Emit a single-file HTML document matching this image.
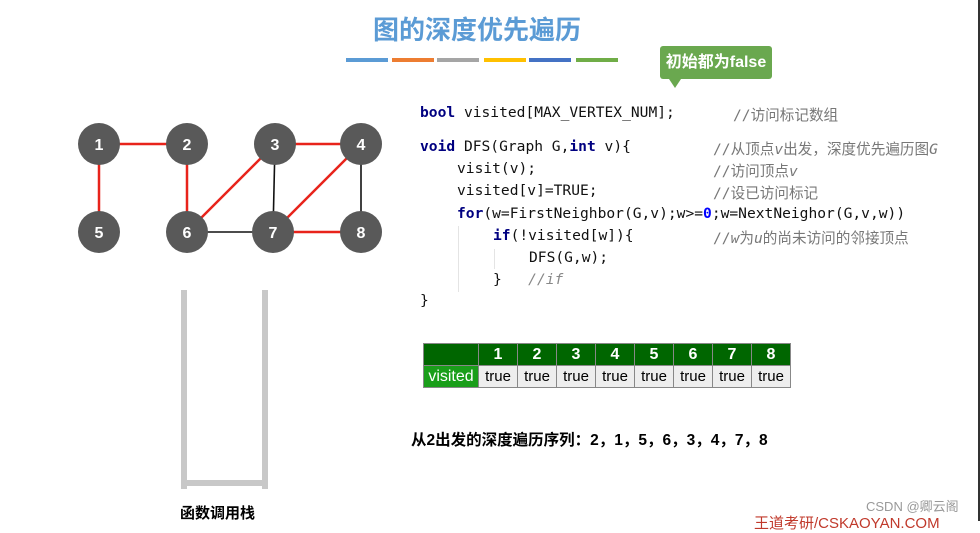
<!DOCTYPE html>
<html><head><meta charset="utf-8"><style>
body{margin:0;width:980px;height:521px;overflow:hidden;background:#fff;position:relative;font-family:"Liberation Sans","Noto Sans CJK SC",sans-serif}
.a{position:absolute;white-space:nowrap}
.code{font-family:"DejaVu Sans Mono","Noto Sans CJK SC",monospace;font-size:14.6px;color:#111}
.kw{color:#000080;font-weight:bold}
.cm{color:#777;font-family:"DejaVu Sans Mono","Noto Sans CJK SC",monospace;font-size:14.6px}
table{position:absolute;left:423px;top:343px;border-collapse:collapse;font-size:15px}
td{border:1px solid #888;height:21px;padding:0;text-align:center;width:38px}
tr.h td{background:#006600;color:#fff;font-weight:bold;font-size:16px}
tr.v td{background:#eee;color:#000}
</style></head><body>
<div class="a" style="left:373px;top:10px;font-size:26px;font-weight:bold;color:#5b9bd5">图的深度优先遍历</div>
<div class="a" style="left:346px;top:58px;width:42px;height:4px;background:#5b9bd5"></div>
<div class="a" style="left:392px;top:58px;width:42px;height:4px;background:#ed7d31"></div>
<div class="a" style="left:437px;top:58px;width:42px;height:4px;background:#a5a5a5"></div>
<div class="a" style="left:484px;top:58px;width:42px;height:4px;background:#ffc000"></div>
<div class="a" style="left:529px;top:58px;width:42px;height:4px;background:#4472c4"></div>
<div class="a" style="left:576px;top:58px;width:42px;height:4px;background:#70ad47"></div>
<div class="a" style="left:660px;top:46px;width:112px;height:33px;background:#6aa84f;border-radius:3px;color:#fff;font-weight:bold;font-size:16px;line-height:33px;text-align:center">初始都为false</div>
<div class="a" style="left:669px;top:79px;width:0;height:0;border-left:6px solid transparent;border-right:6px solid transparent;border-top:9px solid #6aa84f"></div>
<svg class="a" style="left:0;top:0" width="420" height="300">
<g stroke-width="2.5"><line x1="99" y1="144" x2="187" y2="144" stroke="#e8231b"/><line x1="99" y1="144" x2="99" y2="232" stroke="#e8231b"/><line x1="187" y1="144" x2="187" y2="232" stroke="#e8231b"/><line x1="187" y1="232" x2="275" y2="144" stroke="#e8231b"/><line x1="275" y1="144" x2="361" y2="144" stroke="#e8231b"/><line x1="361" y1="144" x2="273" y2="232" stroke="#e8231b"/><line x1="273" y1="232" x2="361" y2="232" stroke="#e8231b"/></g>
<g stroke="#111" stroke-width="1.6"><line x1="187" y1="232" x2="273" y2="232"/><line x1="275" y1="144" x2="273" y2="232"/><line x1="361" y1="144" x2="361" y2="232"/></g>
<g fill="#595959"><circle cx="99" cy="144" r="21"/><circle cx="187" cy="144" r="21"/><circle cx="275" cy="144" r="21"/><circle cx="361" cy="144" r="21"/><circle cx="99" cy="232" r="21"/><circle cx="187" cy="232" r="21"/><circle cx="273" cy="232" r="21"/><circle cx="361" cy="232" r="21"/></g>
<g fill="#fff" font-size="16" font-weight="bold" text-anchor="middle" font-family="Liberation Sans"><text x="99" y="150">1</text><text x="187" y="150">2</text><text x="275" y="150">3</text><text x="361" y="150">4</text><text x="99" y="238">5</text><text x="187" y="238">6</text><text x="273" y="238">7</text><text x="361" y="238">8</text></g>
</svg>
<div class="a" style="left:181px;top:290px;width:6px;height:199px;background:#c8c8c8"></div>
<div class="a" style="left:262px;top:290px;width:6px;height:199px;background:#c8c8c8"></div>
<div class="a" style="left:186px;top:480px;width:77px;height:6px;background:#c8c8c8"></div>
<div class="a" style="left:180px;top:502px;font-size:15px;font-weight:bold">函数调用栈</div>
<div class="a code" style="left:420px;top:104px"><span class="kw">bool</span> visited[MAX_VERTEX_NUM];</div>
<div class="a cm" style="left:733px;top:104px">//访问标记数组</div>
<div class="a code" style="left:420px;top:138px"><span class="kw">void</span> DFS(Graph G,<span class="kw">int</span> v){</div>
<div class="a code" style="left:457px;top:160px">visit(v);</div>
<div class="a code" style="left:457px;top:182px">visited[v]=TRUE;</div>
<div class="a code" style="left:457px;top:205px"><span class="kw">for</span>(w=FirstNeighbor(G,v);w&gt;=<span class="kw" style="color:#0000ff">0</span>;w=NextNeighor(G,v,w))</div>
<div class="a code" style="left:493px;top:227px"><span class="kw">if</span>(!visited[w]){</div>
<div class="a code" style="left:529px;top:249px">DFS(G,w);</div>
<div class="a code" style="left:493px;top:271px">}&nbsp;&nbsp; <span style="color:#888;font-style:italic">//if</span></div>
<div class="a code" style="left:420px;top:292px">}</div>
<div class="a" style="left:458px;top:226px;width:1px;height:66px;background:#e4e4e4"></div>
<div class="a" style="left:494px;top:249px;width:1px;height:20px;background:#e4e4e4"></div>
<div class="a cm" style="left:713px;top:138px">//从顶点<i>v</i>出发，深度优先遍历图<i>G</i></div>
<div class="a cm" style="left:713px;top:160px">//访问顶点<i>v</i></div>
<div class="a cm" style="left:713px;top:182px">//设已访问标记</div>
<div class="a cm" style="left:713px;top:227px">//<i>w</i>为<i>u</i>的尚未访问的邻接顶点</div>
<table>
<tr class="h"><td style="width:54px"></td><td>1</td><td>2</td><td>3</td><td>4</td><td>5</td><td>6</td><td>7</td><td>8</td></tr>
<tr class="v"><td style="background:#1a9e1a;color:#fff;font-size:16px">visited</td><td>true</td><td>true</td><td>true</td><td>true</td><td>true</td><td>true</td><td>true</td><td>true</td></tr>
</table>
<div class="a" style="left:411px;top:428px;font-size:15.5px;font-weight:bold">从2出发的深度遍历序列：2，1，5，6，3，4，7，8</div>
<div class="a" style="left:866px;top:496px;font-size:13px;color:#999">CSDN @卿云阁</div>
<div class="a" style="left:754px;top:512px;font-size:15px;color:#c0392b">王道考研/CSKAOYAN.COM</div>
<div class="a" style="left:978px;top:0;width:2px;height:521px;background:#333"></div>
</body></html>
